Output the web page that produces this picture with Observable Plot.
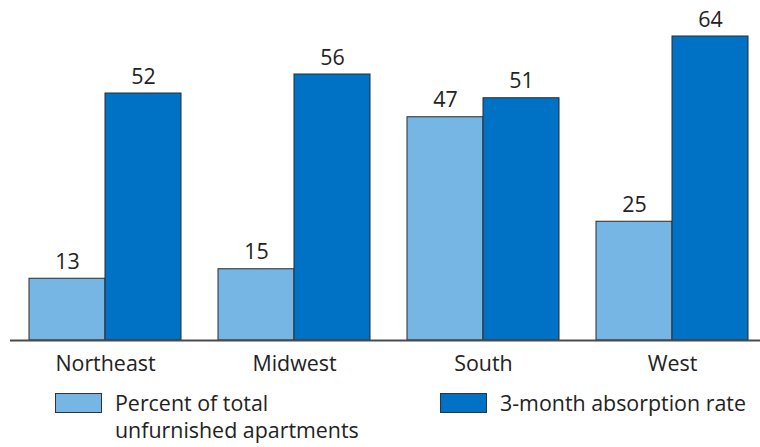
<!DOCTYPE html>
<html>
<head>
<meta charset="utf-8">
<script src="https://cdn.jsdelivr.net/npm/d3@7"></script>
<script src="https://cdn.jsdelivr.net/npm/@observablehq/plot@0.6"></script>
<style>
  body { margin: 0; background: #fff; font-family: "Open Sans", sans-serif; }
  #wrap { position: relative; width: 760px; height: 447px; }
  #legend { position: absolute; left: 0; top: 380px; width: 760px; height: 67px; font-size: 21.4px; color: #222; }
  .sw { position: absolute; width: 47px; height: 20px; border: 1px solid #333; box-sizing: border-box; }
  .lt { position: absolute; line-height: 27px; white-space: nowrap; }
</style>
</head>
<body>
<div id="wrap">
  <div id="chart"></div>
  <div id="legend"></div>
</div>
<script>
const regions = ["Northeast", "Midwest", "South", "West"];
const seriesNames = ["Percent of total unfurnished apartments", "3-month absorption rate"];
const percentOfTotal = [13, 15, 47, 25];
const absorptionRate = [52, 56, 51, 64];
const colors = ["#76b6e4", "#0072c6"];

const data = [];
regions.forEach((r, i) => {
  data.push({region: r, series: seriesNames[0], value: percentOfTotal[i]});
  data.push({region: r, series: seriesNames[1], value: absorptionRate[i]});
});
const s1 = data.filter(d => d.series === seriesNames[0]);
const s2 = data.filter(d => d.series === seriesNames[1]);

const half = 76;
const chart = Plot.plot({
  width: 760,
  height: 380,
  marginTop: 36,
  marginBottom: 40,
  marginLeft: 10,
  marginRight: 0,
  style: { fontFamily: "Open Sans, sans-serif", fontSize: "21.4px", color: "#222", background: "#fff" },
  x: { domain: regions, paddingInner: 0.196, paddingOuter: 0.082, align: 0.613, label: null, tickSize: 0, tickPadding: 15 },
  y: { domain: [0, 64], axis: null },
  marks: [
    Plot.barY(s1, { x: "region", y: "value", fill: colors[0], stroke: "#2a2a2a", strokeWidth: 1, insetRight: half }),
    Plot.barY(s2, { x: "region", y: "value", fill: colors[1], stroke: "#2a2a2a", strokeWidth: 1, insetLeft: half }),
    Plot.text(s1, { x: "region", y: "value", text: d => String(d.value), dx: -half / 2, dy: -10, lineAnchor: "bottom", fill: "#222", fontSize: 21.4 }),
    Plot.text(s2, { x: "region", y: "value", text: d => String(d.value), dx: half / 2, dy: -10, lineAnchor: "bottom", fill: "#222", fontSize: 21.4 }),
    Plot.ruleY([0], { stroke: "#4a4a4a", strokeWidth: 2 })
  ]
});
document.getElementById("chart").appendChild(chart);

const legend = document.getElementById("legend");
const items = [
  { color: colors[0], lines: ["Percent of total", "unfurnished apartments"], sx: 55, tx: 115 },
  { color: colors[1], lines: ["3-month absorption rate"], sx: 440, tx: 500 }
];
items.forEach(it => {
  const sw = document.createElement("div");
  sw.className = "sw";
  sw.style.left = it.sx + "px";
  sw.style.top = "13px";
  sw.style.background = it.color;
  legend.appendChild(sw);
  const t = document.createElement("div");
  t.className = "lt";
  t.style.left = it.tx + "px";
  t.style.top = "9px";
  t.innerHTML = it.lines.join("<br>");
  legend.appendChild(t);
});
</script>
</body>
</html>
